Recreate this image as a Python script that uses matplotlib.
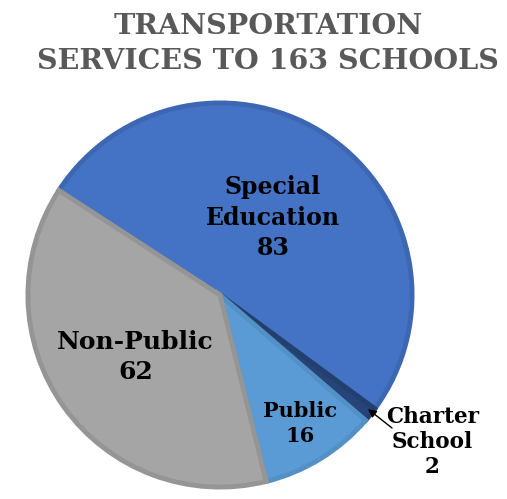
import matplotlib.pyplot as plt

categories = ["Special\nEducation", "Charter\nSchool", "Public", "Non-Public"]
values = [83, 2, 16, 62]
fills = ["#4472C4", "#264478", "#5B9BD5", "#A5A5A5"]
edges = ["#3E67B1", "#22406E", "#5290C6", "#959595"]

fig = plt.figure(figsize=(5.07, 4.99), dpi=100)
ax = fig.add_axes([25 / 507, 9 / 499, 390 / 507, 390 / 499])

wedges, _ = ax.pie(values, startangle=147, counterclock=False, colors=fills,
                   radius=0.985)
for w, ec in zip(wedges, edges):
    w.set_edgecolor(ec)
    w.set_linewidth(3.5)
ax.set_xlim(-1, 1)
ax.set_ylim(-1, 1)
ax.axis("off")

font = dict(family="DejaVu Serif", fontweight="bold", color="black",
            ha="center", va="center")
ax.text(0.272, 0.397, f"{categories[0]}\n{values[0]}", fontsize=17,
        linespacing=1.34, **font)
ax.text(-0.433, -0.318, f"{categories[3]}\n{values[3]}", fontsize=18,
        linespacing=1.3, **font)
ax.text(0.41, -0.659, f"{categories[2]}\n{values[2]}", fontsize=15,
        linespacing=1.3, **font)
ax.text(1.09, -0.754, f"{categories[1]}\n{values[1]}", fontsize=15.5,
        linespacing=1.2, **font)
ax.annotate("", xy=(0.759, -0.585), xytext=(0.882, -0.682),
            arrowprops=dict(arrowstyle="-|>", color="black", lw=1,
                            shrinkA=0, shrinkB=0, mutation_scale=12),
            annotation_clip=False)

fig.text(268 / 507, 1 - 44 / 499, "TRANSPORTATION\nSERVICES TO 163 SCHOOLS",
         ha="center", va="center", family="DejaVu Serif", fontweight="bold",
         color="#595959", fontsize=20.5, linespacing=1.38)

plt.savefig("out.png", dpi=100)
